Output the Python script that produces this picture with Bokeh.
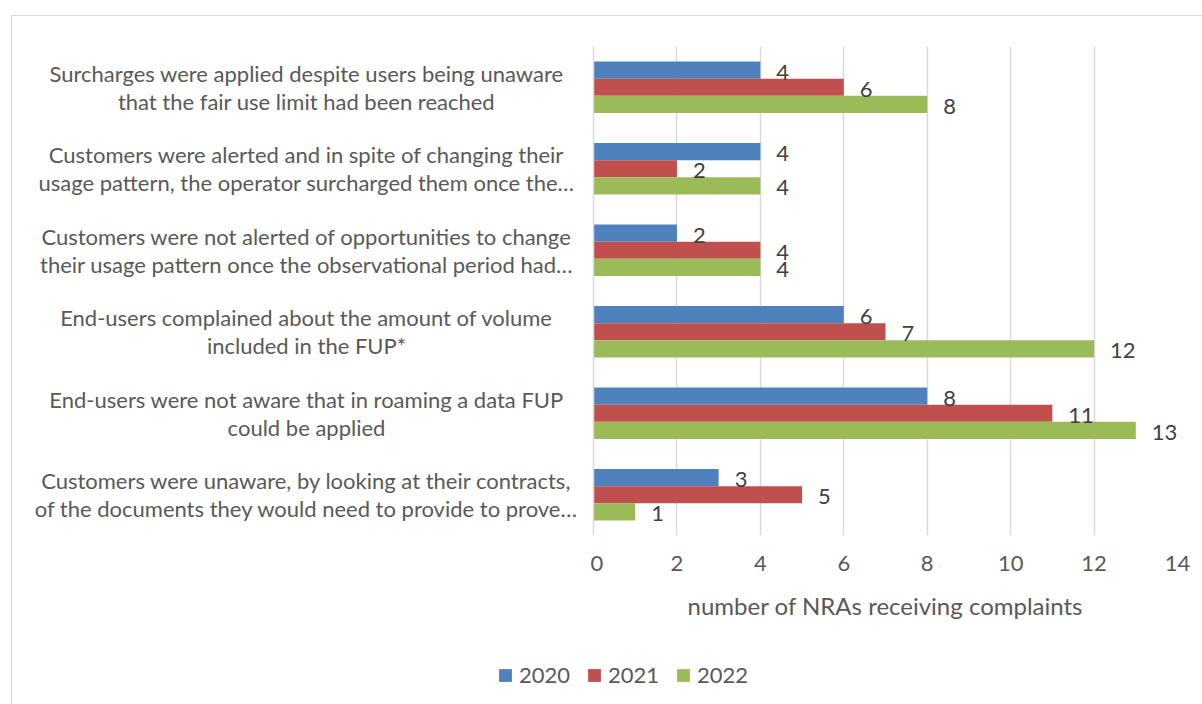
from bokeh.plotting import figure
from bokeh.models import (ColumnDataSource, Range1d, FixedTicker, Legend, LegendItem)
from bokeh.layouts import column, row
from bokeh.transform import dodge
from bokeh.core.properties import value
from bokeh.embed import file_html
from bokeh.resources import INLINE

categories = [
    "Surcharges were applied despite users being unaware\nthat the fair use limit had been reached",
    "Customers were alerted and in spite of changing their\nusage pattern, the operator surcharged them once the\u2026",
    "Customers were not alerted of opportunities to change\ntheir usage pattern once the observational period had\u2026",
    "End-users complained about the amount of volume\nincluded in the FUP*",
    "End-users were not aware that in roaming a data FUP\ncould be applied",
    "Customers were unaware, by looking at their contracts,\nof the documents they would need to provide to prove\u2026",
]
years = ["2020", "2021", "2022"]
v2020 = [4, 4, 2, 6, 8, 3]
v2021 = [6, 2, 4, 7, 11, 5]
v2022 = [8, 4, 4, 12, 13, 1]
x_ticks = [0, 2, 4, 6, 8, 10, 12, 14]
x_title = "number of NRAs receiving complaints"

colors = ["#4F81BD", "#C0504D", "#9BBB59"]
FONT = "Lato"
TXT = "#595959"
NUM_SIZE = "22px"
TEXT_SIZE = "24px"
CAT_SIZE = "22px"

TOP_H = 625
LEFT_W = 578
MAIN_W = 1191 - LEFT_W
yr = Range1d(6, 0)
ypos = [i + 0.5 for i in range(len(categories))]

# ---- left: category labels
pl = figure(width=LEFT_W, height=TOP_H, output_backend="svg", toolbar_location=None,
            x_range=Range1d(0, LEFT_W), y_range=yr,
            min_border_left=0, min_border_right=0, min_border_top=30, min_border_bottom=106)
pl.axis.visible = False
pl.grid.visible = False
pl.outline_line_color = None
pl.text(x=[294] * len(categories), y=ypos, text=categories, text_align="center",
        text_baseline="middle", text_font=value(FONT), text_font_size=CAT_SIZE,
        text_color=TXT, text_line_height=1.05)

# ---- main bars
p = figure(width=MAIN_W, height=TOP_H, output_backend="svg", toolbar_location=None,
           x_range=Range1d(0, 14), y_range=yr,
           min_border_left=3, min_border_right=26, min_border_top=30, min_border_bottom=106)
p.outline_line_color = None

bh = 0.21
offsets = [-bh, 0.0, bh]
sources = []
for yname, vals, col, off in zip(years, [v2020, v2021, v2022], colors, offsets):
    src = ColumnDataSource(dict(y=ypos, v=vals, lbl=[str(v) for v in vals]))
    sources.append((src, off))
    p.hbar(y=dodge("y", off, range=p.y_range), right="v", left=0, height=bh,
           source=src, fill_color=col, line_color=None)
for src, off in sources:
    p.text(x="v", y=dodge("y", off, range=p.y_range), text="lbl", source=src,
           x_offset=16, y_offset=2, text_align="left", text_baseline="middle",
           text_font=value(FONT), text_font_size=NUM_SIZE, text_color="#404040")

p.xaxis.ticker = FixedTicker(ticks=x_ticks)
p.xaxis.axis_line_color = None
p.xaxis.major_tick_line_color = None
p.xaxis.minor_tick_line_color = None
p.xaxis.major_label_text_font = FONT
p.xaxis.major_label_text_font_size = NUM_SIZE
p.xaxis.major_label_text_color = TXT
p.xaxis.major_label_standoff = 14
p.xaxis.axis_label = x_title
p.xaxis.axis_label_text_font = FONT
p.xaxis.axis_label_text_font_size = TEXT_SIZE
p.xaxis.axis_label_text_font_style = "normal"
p.xaxis.axis_label_text_color = TXT
p.xaxis.axis_label_standoff = 17

p.yaxis.ticker = FixedTicker(ticks=[])
p.yaxis.axis_line_color = "#d9d9d9"
p.yaxis.axis_line_width = 1.5
p.yaxis.major_tick_out = 0
p.yaxis.major_tick_in = 0
p.yaxis.major_label_standoff = 0
p.yaxis.major_tick_line_color = None
p.yaxis.minor_tick_line_color = None
p.yaxis.major_label_text_font_size = "0px"

p.xgrid.grid_line_color = "#d9d9d9"
p.xgrid.grid_line_width = 1.5
p.xgrid.ticker = FixedTicker(ticks=x_ticks)
p.ygrid.grid_line_color = None

# ---- legend strip
LEG_H = 704 - 15 - TOP_H
pg = figure(width=1191, height=LEG_H, output_backend="svg", toolbar_location=None,
            x_range=Range1d(0, 1), y_range=Range1d(0, 1),
            min_border_left=0, min_border_right=0, min_border_top=0, min_border_bottom=0)
pg.axis.visible = False
pg.grid.visible = False
pg.outline_line_color = None
items = []
for yname, col in zip(years, colors):
    r = pg.hbar(y=[-10], right=[0], left=0, height=0.1, fill_color=col, line_color=None)
    items.append(LegendItem(label=yname, renderers=[r]))
legend = Legend(items=items, orientation="horizontal", location=(485, 17),
                glyph_width=16, glyph_height=16, label_standoff=6, spacing=16,
                label_text_font=FONT, label_text_font_size=NUM_SIZE, label_text_color=TXT,
                border_line_color=None, background_fill_alpha=0, padding=0, margin=0)
pg.add_layout(legend, "center")

layout = column(row(pl, p, spacing=0), pg, spacing=0)
layout.margin = (15, 0, 0, 11)
layout.styles = {"border-top": "1px solid #d9d9d9", "border-left": "1px solid #d9d9d9"}

open("out.html", "w").write(file_html(layout, INLINE))
